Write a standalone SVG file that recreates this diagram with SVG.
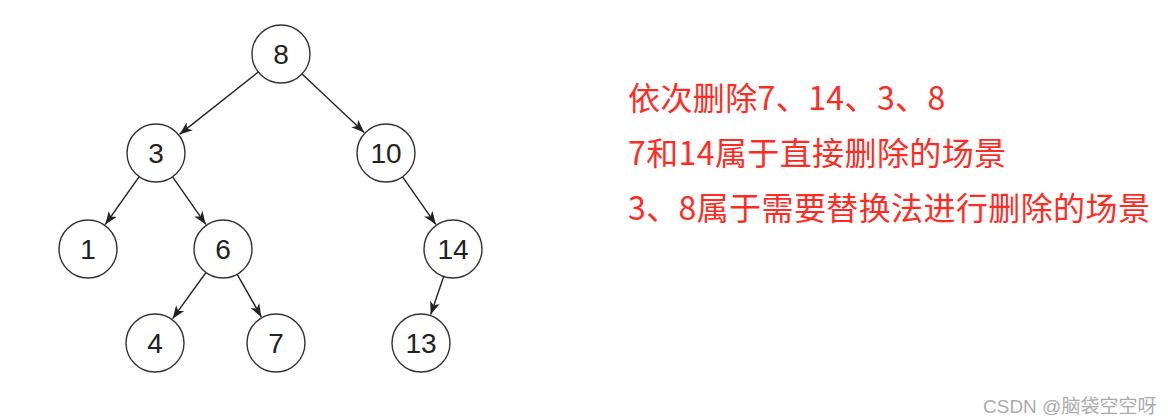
<svg xmlns="http://www.w3.org/2000/svg" width="1168" height="418" viewBox="0 0 1168 418">
<style>
.n circle{fill:#fff;stroke:#333;stroke-width:1.4}
.n text{font-family:"Liberation Sans",Arial,sans-serif;font-size:28px;fill:#222;text-anchor:middle}
.e line{stroke:#222;stroke-width:1.4;marker-end:url(#arr)}
.t{font-family:"Microsoft YaHei","Noto Sans CJK SC",sans-serif;font-size:32px;letter-spacing:0.4px;fill:#fe2c24}
.w{font-family:"Liberation Sans","Noto Sans CJK SC",sans-serif;font-size:19px;fill:#ababab}
</style>
<defs>
<marker id="arr" markerUnits="userSpaceOnUse" markerWidth="14" markerHeight="12" refX="13" refY="6" orient="auto">
<path d="M0,1 L13,6 L0,11 L3.5,6 Z" fill="#222"/>
</marker>
</defs>
<rect width="1168" height="418" fill="#fff"/>
<g id="edges" class="e">
<line x1="258.3" y1="72" x2="179.5" y2="134.4"/>
<line x1="302.1" y1="73.9" x2="364.2" y2="132.4"/>
<line x1="139.2" y1="176.7" x2="105.3" y2="224.5"/>
<line x1="172.6" y1="176.8" x2="205.8" y2="224.4"/>
<line x1="402.6" y1="176.8" x2="435.8" y2="224.4"/>
<line x1="206" y1="272.5" x2="172.6" y2="318.7"/>
<line x1="237.2" y1="274.3" x2="261.3" y2="316.9"/>
<line x1="443.7" y1="276.5" x2="430.7" y2="314.6"/>
</g>
<g id="n8" class="n"><circle cx="281" cy="54" r="29"/><text x="281" y="64">8</text></g>
<g id="n3" class="n"><circle cx="156" cy="153" r="29"/><text x="156" y="163">3</text></g>
<g id="n10" class="n"><circle cx="386" cy="153" r="29"/><text x="386" y="163">10</text></g>
<g id="n1" class="n"><circle cx="88" cy="249" r="29"/><text x="88" y="259">1</text></g>
<g id="n6" class="n"><circle cx="223" cy="249" r="29"/><text x="223" y="259">6</text></g>
<g id="n14" class="n"><circle cx="453" cy="249" r="29"/><text x="453" y="259">14</text></g>
<g id="n4" class="n"><circle cx="155" cy="343" r="29"/><text x="155" y="353">4</text></g>
<g id="n7" class="n"><circle cx="276" cy="343" r="29"/><text x="276" y="353">7</text></g>
<g id="n13" class="n"><circle cx="421" cy="343" r="29"/><text x="421" y="353">13</text></g>
<g id="notes">
<text class="t" x="628" y="110">依次删除7、14、3、8</text>
<text class="t" x="628" y="165">7和14属于直接删除的场景</text>
<text class="t" x="628" y="220">3、8属于需要替换法进行删除的场景</text>
</g>
<text class="w" x="983" y="413">CSDN @脑袋空空呀</text>
</svg>
